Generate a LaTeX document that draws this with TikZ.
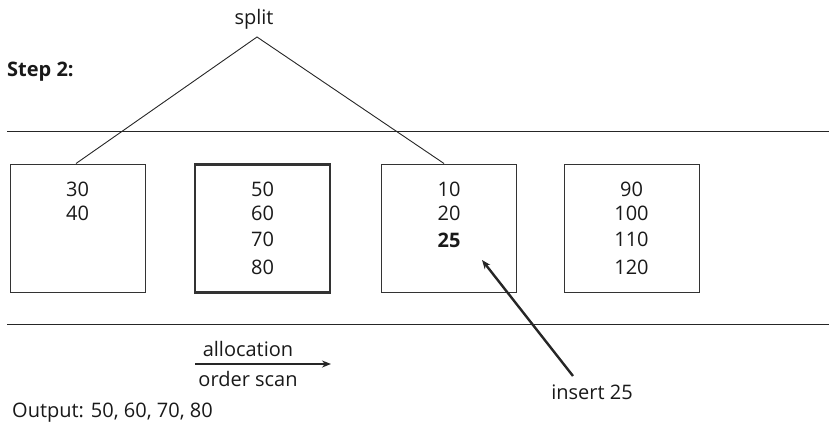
\documentclass[tikz,border=0pt]{standalone}
\usepackage{fontspec}
\setmainfont{Open Sans}
\usetikzlibrary{arrows.meta}
\begin{document}
\begin{tikzpicture}[x=1pt,y=-1pt,
  every node/.style={font=\fontsize{20}{23}\selectfont, text=black!90, inner sep=0pt},
  page/.style={draw=black!80, line width=1pt, minimum width=135pt, minimum height=128pt, inner sep=0pt},
  hotpage/.style={page, line width=2.8pt},
  thin/.style={draw=black!85, line width=0.9pt},
  bigarrow/.style={draw=black!85, -{Stealth[length=9pt,width=7pt]}}]
\useasboundingbox (0,0) rectangle (829,428);
% rails
\coordinate (t1) at (7,131); \coordinate (t2) at (829,131);
\coordinate (b1) at (7,324); \coordinate (b2) at (829,324);
\draw[thin] (t1) -- (t2);
\draw[thin] (b1) -- (b2);
% pages
\node[page] (p1) at (77.5,228) {};
\node[hotpage] (p2) at (262.5,228.5) {};
\node[page] (p3) at (449,228) {};
\node[page] (p4) at (631.5,228) {};
% values
\node at (77.5,189) {30};
\node at (77.5,213) {40};
\node at (262.5,189) {50};
\node at (262.5,213) {60};
\node at (262.5,239.5) {70};
\node at (262.5,267) {80};
\node at (449,189) {10};
\node at (449,213) {20};
\node at (449,240) {\textbf{25}};
\node at (631.5,189) {90};
\node at (631.5,213) {100};
\node at (631.5,239.5) {110};
\node at (631.5,267) {120};
% split
\node (split) at (254,19) {split};
\coordinate (apex) at (257,37);
\draw[thin] (p1.north -| 76,0) -- (apex) -- (p3.north -| 444,0);
\node[font=\fontsize{20}{23}\selectfont\bfseries, anchor=west] (step) at (7,72) {Step 2:};
% allocation order scan
\node (alloc) at (248,349) {allocation};
\node (order) at (248,379) {order scan};
\coordinate (a1) at (195,364); \coordinate (a2) at (331,364);
\draw[bigarrow, line width=2pt] (a1) -- (a2);
% insert 25
\node (ins) at (592,392) {insert 25};
\coordinate (tail) at (573,376); \coordinate (tip) at (482,260);
\draw[bigarrow, line width=2.4pt] (tail) -- (tip);
\node[anchor=west] (out) at (12,413) {Output: 50, 60, 70, 80};
\end{tikzpicture}
\end{document}
